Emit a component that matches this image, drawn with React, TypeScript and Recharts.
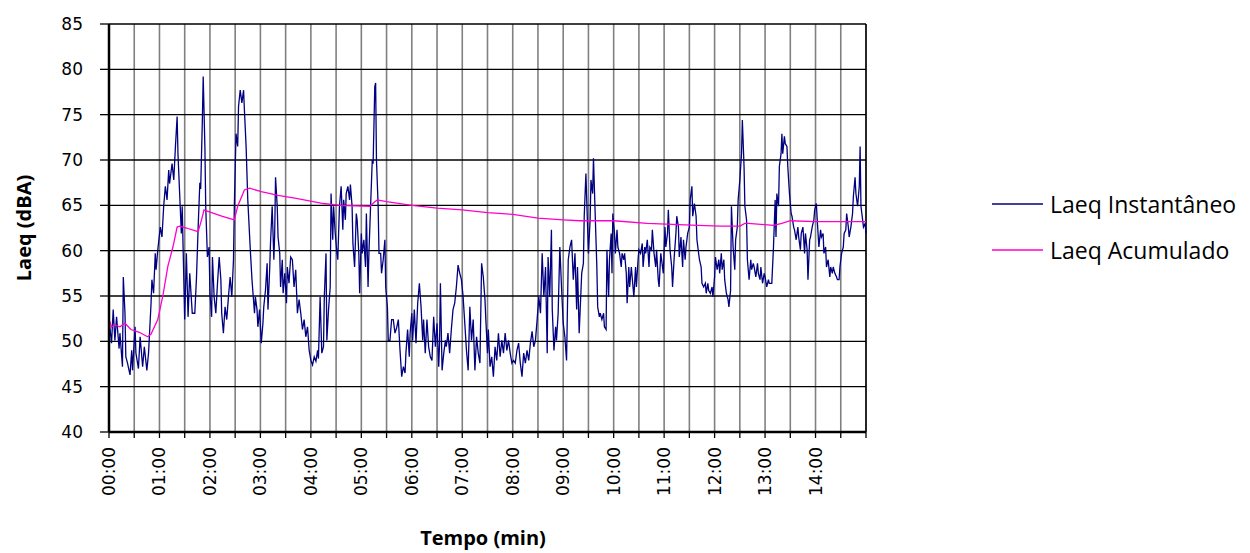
import { LineChart, Line, XAxis, YAxis, CartesianGrid, ReferenceLine, Legend } from 'recharts';

// [segundos, dBA]
const laeqInstantaneo: [number, number][] = [
  [0, 52.4], [3, 49.8], [5, 53.5], [7, 50.1], [9, 52.7], [12, 49.2], [13, 50.9], [16, 47.2], [17, 57.1], [19, 53.1],
  [20, 48.3], [22, 47.6], [25, 46.3], [27, 49.0], [28, 46.8], [31, 51.6], [32, 48.7], [35, 47.0], [37, 50.5], [40, 47.2],
  [42, 49.4], [45, 46.8], [47, 48.7], [48, 50.5], [50, 54.2], [51, 56.8], [53, 55.3], [55, 59.7], [56, 57.9], [58, 60.1],
  [61, 62.6], [63, 61.5], [65, 64.9], [67, 67.1], [69, 65.6], [71, 68.9], [72, 67.4], [75, 69.6], [77, 67.8], [79, 71.5],
  [81, 74.8], [82, 70.7], [84, 66.3], [86, 61.9], [87, 64.9], [90, 52.4], [92, 59.7], [94, 52.7], [96, 57.5], [99, 53.1],
  [102, 53.1], [104, 57.0], [106, 62.6], [108, 67.5], [109, 66.8], [111, 74.4], [112, 79.2], [114, 71.5], [115, 64.9], [117, 59.3],
  [119, 60.4], [120, 55.3], [122, 52.7], [123, 59.3], [125, 54.9], [127, 53.1], [129, 56.4], [131, 59.3], [133, 56.8], [134, 53.1],
  [136, 50.9], [138, 53.8], [140, 52.4], [142, 54.9], [144, 57.1], [146, 54.9], [148, 59.0], [149, 64.9], [151, 72.9], [153, 71.5],
  [154, 75.9], [156, 77.7], [158, 76.3], [160, 77.7], [161, 75.5], [163, 71.5], [165, 65.6], [168, 60.1], [170, 56.8], [173, 53.1],
  [174, 54.9], [176, 53.5], [177, 51.6], [179, 53.5], [181, 49.8], [183, 52.0], [184, 53.8], [186, 55.6], [188, 58.6], [189, 53.5],
  [191, 57.9], [192, 60.8], [194, 64.9], [196, 59.0], [197, 61.9], [198, 68.1], [200, 64.9], [201, 61.5], [203, 59.7], [204, 56.0],
  [206, 59.0], [207, 55.3], [209, 57.5], [211, 54.2], [212, 58.2], [214, 56.4], [216, 59.3], [218, 59.0], [220, 56.0], [222, 57.9],
  [224, 53.1], [226, 54.6], [228, 53.1], [230, 51.3], [232, 52.4], [234, 50.5], [236, 51.6], [238, 49.0], [240, 47.9], [242, 47.4],
  [244, 48.3], [246, 47.8], [248, 49.0], [249, 48.1], [251, 54.9], [253, 48.7], [255, 49.4], [256, 54.9], [258, 59.7], [259, 50.1],
  [261, 53.5], [263, 56.0], [264, 66.3], [266, 61.2], [267, 64.9], [269, 61.9], [271, 59.7], [272, 59.0], [274, 64.9], [276, 67.1],
  [278, 62.3], [279, 65.6], [281, 63.4], [282, 66.3], [284, 67.1], [286, 65.6], [287, 67.3], [289, 64.9], [290, 60.8], [292, 58.2],
  [294, 64.1], [295, 63.4], [297, 59.7], [298, 55.3], [300, 61.9], [301, 59.7], [303, 61.2], [305, 58.2], [306, 64.1], [308, 56.0],
  [309, 59.7], [311, 64.9], [313, 70.0], [314, 69.6], [316, 78.1], [317, 78.5], [318, 70.0], [320, 64.9], [321, 59.7], [323, 59.7],
  [324, 57.5], [326, 59.0], [328, 61.2], [329, 56.0], [331, 53.8], [332, 50.1], [334, 50.1], [336, 52.4], [338, 52.4], [340, 50.9],
  [342, 51.5], [344, 52.4], [346, 49.0], [348, 46.1], [350, 47.2], [352, 46.5], [353, 48.7], [355, 51.3], [357, 48.3], [358, 50.9],
  [360, 53.1], [361, 50.1], [363, 53.5], [365, 49.8], [367, 54.2], [369, 56.4], [371, 53.8], [373, 50.1], [374, 52.4], [376, 48.7],
  [378, 52.4], [380, 49.4], [382, 48.3], [384, 47.9], [386, 52.7], [388, 49.4], [390, 52.0], [392, 47.2], [393, 49.8], [394, 56.4],
  [396, 46.8], [398, 48.7], [400, 50.1], [401, 49.4], [403, 50.9], [405, 48.7], [407, 51.3], [409, 53.5], [411, 54.2], [413, 56.0],
  [415, 58.4], [417, 57.5], [419, 56.8], [421, 54.9], [423, 52.0], [425, 49.0], [427, 46.8], [429, 53.8], [431, 50.1], [433, 52.4],
  [435, 46.8], [437, 50.5], [439, 48.7], [441, 47.6], [443, 58.6], [445, 57.1], [447, 54.6], [448, 52.4], [450, 48.7], [451, 51.3],
  [453, 47.2], [455, 48.3], [457, 46.1], [459, 49.4], [461, 47.9], [463, 50.9], [465, 48.3], [467, 50.1], [469, 48.7], [471, 50.9],
  [473, 49.0], [475, 50.1], [477, 48.7], [479, 47.6], [481, 47.9], [483, 47.6], [485, 49.0], [487, 49.8], [489, 47.6], [491, 46.1],
  [493, 48.7], [495, 47.6], [497, 49.0], [499, 47.9], [501, 49.8], [503, 51.1], [505, 49.4], [507, 50.1], [509, 52.4], [511, 54.9],
  [513, 53.1], [515, 59.7], [517, 54.9], [519, 58.2], [521, 48.7], [522, 59.3], [524, 54.9], [526, 62.3], [527, 53.5], [529, 49.0],
  [531, 51.6], [532, 50.1], [534, 53.1], [536, 60.4], [538, 56.0], [540, 52.0], [542, 50.5], [544, 47.9], [546, 59.0], [548, 60.4],
  [550, 61.2], [552, 56.8], [554, 59.7], [556, 53.5], [557, 58.2], [559, 50.9], [561, 55.3], [562, 57.5], [564, 58.6], [565, 63.8],
  [567, 68.5], [569, 62.6], [570, 59.7], [572, 63.4], [573, 67.8], [575, 66.3], [576, 70.2], [578, 64.1], [580, 58.2], [581, 53.8],
  [583, 52.7], [584, 53.1], [586, 52.4], [588, 53.1], [589, 51.6], [591, 51.3], [592, 60.1], [594, 54.9], [595, 59.0], [597, 61.9],
  [598, 57.5], [599, 64.1], [601, 61.9], [602, 59.7], [604, 62.3], [605, 60.4], [607, 59.7], [609, 58.2], [610, 59.7], [612, 59.0],
  [613, 59.7], [615, 57.5], [616, 54.2], [618, 58.2], [619, 56.0], [621, 58.2], [623, 56.0], [624, 54.9], [626, 58.2], [627, 56.0],
  [629, 59.0], [630, 60.1], [632, 59.7], [634, 60.8], [635, 58.2], [637, 60.4], [638, 59.7], [640, 61.2], [642, 58.2], [643, 60.4],
  [645, 60.1], [646, 62.3], [648, 59.7], [650, 58.2], [651, 60.1], [653, 56.8], [654, 56.0], [656, 59.7], [657, 59.0], [659, 57.5],
  [661, 62.6], [662, 60.4], [664, 61.9], [665, 64.5], [667, 60.1], [669, 58.2], [670, 56.0], [672, 59.3], [674, 61.9], [675, 63.8],
  [677, 62.6], [678, 59.3], [680, 61.5], [682, 58.2], [683, 61.2], [685, 59.0], [686, 60.4], [688, 61.9], [690, 62.6], [691, 65.6],
  [693, 67.1], [694, 63.8], [696, 65.2], [698, 63.8], [699, 61.2], [701, 59.7], [702, 59.0], [704, 58.2], [705, 56.4], [707, 56.0],
  [709, 56.4], [710, 55.3], [712, 56.4], [713, 55.6], [715, 55.3], [717, 56.0], [718, 54.9], [720, 57.1], [721, 59.3], [723, 57.9],
  [725, 59.0], [726, 57.5], [728, 59.7], [729, 57.9], [731, 59.0], [732, 56.8], [734, 55.3], [736, 54.6], [737, 53.8], [739, 55.6],
  [740, 64.9], [742, 60.4], [744, 57.9], [745, 61.2], [747, 62.6], [748, 65.6], [750, 67.8], [752, 70.7], [753, 74.4], [755, 69.3],
  [756, 64.9], [758, 63.4], [759, 59.0], [761, 56.8], [763, 59.0], [764, 57.9], [766, 58.6], [767, 58.2], [769, 57.1], [771, 58.6],
  [772, 57.5], [774, 56.8], [775, 58.2], [777, 56.4], [779, 57.5], [780, 57.1], [782, 56.0], [784, 56.8], [785, 56.4], [787, 56.4],
  [788, 56.4], [790, 60.4], [792, 65.6], [793, 61.5], [794, 66.3], [796, 64.9], [797, 69.3], [799, 70.7], [800, 72.9], [801, 70.7],
  [803, 72.6], [804, 71.8], [806, 71.5], [807, 69.3], [809, 66.3], [811, 64.1], [812, 63.8], [814, 62.6], [815, 62.3], [817, 61.2],
  [819, 62.6], [820, 61.5], [822, 60.1], [823, 61.9], [825, 62.6], [827, 59.7], [828, 61.9], [830, 60.1], [831, 56.8], [833, 61.2],
  [834, 61.5], [836, 62.6], [838, 63.4], [839, 64.5], [841, 65.2], [842, 63.4], [844, 60.4], [846, 62.3], [847, 61.5], [849, 61.9],
  [850, 59.7], [852, 60.4], [853, 58.2], [855, 59.0], [857, 57.1], [858, 58.2], [860, 57.5], [861, 58.2], [863, 57.5], [865, 57.1],
  [866, 56.8], [868, 56.8], [869, 58.2], [871, 59.7], [873, 60.4], [874, 61.9], [876, 62.3], [877, 64.1], [879, 62.6], [880, 61.5],
  [882, 62.6], [884, 64.1], [885, 66.0], [887, 68.1], [888, 66.3], [890, 64.9], [892, 67.1], [893, 71.5], [894, 64.9], [896, 63.4],
  [897, 62.6], [899, 63.0], [900, 61.9],
];

const laeqAcumulado: [number, number][] = [
  [0, 52.4], [3, 51.6], [7, 51.8], [13, 51.6], [19, 52.0], [26, 51.3], [36, 51.0], [46, 50.5], [50, 50.8], [58, 52.4],
  [64, 55.0], [70, 58.3], [76, 60.4], [81, 62.6], [84, 62.7], [92, 62.5], [106, 62.1], [110, 63.4], [113, 64.5], [116, 64.4],
  [134, 63.8], [149, 63.4], [153, 64.9], [161, 66.7], [167, 66.9], [181, 66.5], [201, 66.1], [221, 65.8], [255, 65.2], [275, 65.0],
  [310, 64.9], [316, 65.4], [319, 65.6], [330, 65.4], [360, 65.0], [390, 64.7], [420, 64.5], [450, 64.2], [480, 64.0], [510, 63.6],
  [540, 63.4], [560, 63.3], [600, 63.3], [640, 63.0], [670, 62.9], [700, 62.8], [727, 62.7], [750, 62.7], [756, 63.0], [760, 63.0],
  [790, 62.8], [800, 63.0], [810, 63.3], [840, 63.2], [900, 63.2],
];

const xTicks = Array.from({ length: 31 }, (_, i) => i * 30);
const yTicks = [40, 45, 50, 55, 60, 65, 70, 75, 80, 85];

const instData = laeqInstantaneo.map(([t, v]) => ({ t, v }));
const acumData = laeqAcumulado.map(([t, v]) => ({ t, v }));

const COR_INST = '#000080';
const COR_ACUM = '#ff00cc';

const TimeTick = (props: any) => {
  const { x, y, payload } = props;
  const t = payload.value as number;
  if (t % 60 !== 0 || t >= 900) return <g />;
  const label = `${String(t / 60).padStart(2, '0')}:00`;
  return (
    <text
      x={x}
      y={y}
      transform={`rotate(-90 ${x} ${y})`}
      textAnchor="end"
      dominantBaseline="central"
      fontFamily="DejaVu Sans"
      fontSize={17}
      fill="#000"
    >
      {label}
    </text>
  );
};

const LegendBox = () => (
  <div style={{ fontFamily: 'Open Sans', fontSize: 23, color: '#000' }}>
    {[
      { name: 'Laeq Instantâneo', color: COR_INST },
      { name: 'Laeq Acumulado', color: COR_ACUM },
    ].map((item) => (
      <div key={item.name} style={{ display: 'flex', alignItems: 'center', height: 46 }}>
        <svg width={58} height={4}>
          <line x1={0} y1={2} x2={51} y2={2} stroke={item.color} strokeWidth={1.5} />
        </svg>
        <span style={{ lineHeight: '46px' }}>{item.name}</span>
      </div>
    ))}
  </div>
);

export default function App() {
  return (
    <div style={{ position: 'absolute', left: 0, top: 0, width: 1250, height: 553, background: '#fff' }}>
      <LineChart width={1250} height={553} margin={{ top: 24, right: 384, bottom: 61, left: 0 }}>
        <CartesianGrid horizontal={false} stroke="#808080" strokeWidth={1.6} />
        <CartesianGrid vertical={false} stroke="#000" strokeWidth={1.3} />
        <XAxis
          dataKey="t"
          type="number"
          domain={[0, 900]}
          ticks={xTicks}
          interval={0}
          height={60}
          tickSize={6}
          tickMargin={9}
          tick={<TimeTick />}
          axisLine={{ stroke: '#000', strokeWidth: 2.5 }}
          tickLine={{ stroke: '#000', strokeWidth: 1.3 }}
          label={{
            content: () => (
              <text x={483} y={537} textAnchor="middle" dominantBaseline="central" fontFamily="Open Sans" fontWeight="bold" fontSize={20} fill="#000">
                Tempo (min)
              </text>
            ),
          }}
        />
        <YAxis
          type="number"
          domain={[40, 85]}
          ticks={yTicks}
          interval={0}
          width={109}
          tickSize={9}
          tickMargin={17}
          tick={{ fontFamily: 'DejaVu Sans', fontSize: 17, fill: '#000' }}
          axisLine={{ stroke: '#000', strokeWidth: 2.5 }}
          tickLine={{ stroke: '#000', strokeWidth: 1.3 }}
          label={{
            content: () => (
              <text x={23} y={228} transform="rotate(-90 23 228)" textAnchor="middle" dominantBaseline="central" fontFamily="Open Sans" fontWeight="bold" fontSize={20} fill="#000">
                Laeq (dBA)
              </text>
            ),
          }}
        />
        <ReferenceLine x={900} stroke="#000" strokeWidth={1.5} />
        <Line
          data={instData}
          dataKey="v"
          name="Laeq Instantâneo"
          type="linear"
          stroke={COR_INST}
          strokeWidth={1.3}
          dot={false}
          activeDot={false}
          isAnimationActive={false}
        />
        <Line
          data={acumData}
          dataKey="v"
          name="Laeq Acumulado"
          type="linear"
          stroke={COR_ACUM}
          strokeWidth={1.3}
          dot={false}
          activeDot={false}
          isAnimationActive={false}
        />
        <Legend
          layout="vertical"
          align="center"
          verticalAlign="middle"
          content={<LegendBox />}
          wrapperStyle={{ left: 992, top: 181, width: 258, height: 92 }}
        />
      </LineChart>
    </div>
  );
}
